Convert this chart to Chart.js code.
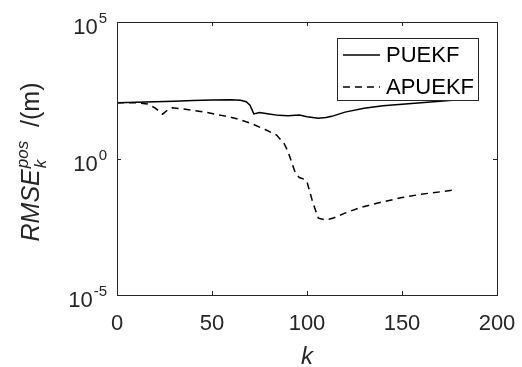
<!DOCTYPE html>
<html>
<head>
<meta charset="utf-8">
<script src="https://cdn.jsdelivr.net/npm/chart.js@4.4.0/dist/chart.umd.min.js"></script>
<style>
  html, body { margin: 0; padding: 0; background: #fff; }
  #wrap { width: 522px; height: 367px; }
</style>
</head>
<body>
<div id="wrap"><canvas id="chart" width="522" height="367"></canvas></div>
<script>
// values (RMSE in m, log axis)
const kPUEKF = [0, 10, 20, 30, 40, 50, 60, 65, 68, 70, 72, 75, 80, 85, 90, 96, 100, 106, 110, 113, 120, 130, 140, 150, 160, 170, 178];
const rmsePUEKF = [111, 115, 120, 126, 132, 138, 141, 135, 120, 89, 43, 48, 43, 38, 37, 39, 34, 30, 32, 35, 50, 69, 85, 98, 110, 126, 138];

const kAPUEKF = [0, 10, 16, 20, 24, 27, 29, 35, 45, 55, 62, 70, 78, 84, 88, 90, 92, 94, 96, 99, 100, 103, 106, 110, 114, 120, 128, 140, 150, 160, 170, 178];
const rmseAPUEKF = [111, 110, 100, 71, 42, 63, 72, 65, 52, 38, 30, 20, 11.5, 7.2, 3.5, 1.8, 0.7, 0.28, 0.2, 0.17, 0.14, 0.025, 0.0065, 0.0056, 0.0066, 0.01, 0.016, 0.026, 0.037, 0.049, 0.06, 0.071];

const seriesNames = ['PUEKF', 'APUEKF'];
const xTicks = [0, 50, 100, 150, 200];
const yTicks = [1e-5, 1, 1e5];
const yTickExp = ['-5', '0', '5'];

const FONT = '"Liberation Sans", Arial, Helvetica, sans-serif';
const INK = '#262626';

function toPoints(xs, ys) {
  return xs.map((x, i) => ({ x: x, y: ys[i] }));
}

const matlabAxes = {
  id: 'matlabAxes',
  afterDatasetsDraw(chart) {
    const ctx = chart.ctx;
    const area = chart.chartArea;
    const sx = chart.scales.x;
    const sy = chart.scales.y;
    ctx.save();

    // box
    ctx.strokeStyle = INK;
    ctx.lineWidth = 1;
    ctx.strokeRect(area.left + 0.5, area.top + 0.5, area.right - area.left, area.bottom - area.top);

    // tick marks, pointing in
    ctx.beginPath();
    for (const t of xTicks) {
      const px = Math.round(sx.getPixelForValue(t)) + 0.5;
      if (t === xTicks[0] || t === xTicks[xTicks.length - 1]) continue;
      ctx.moveTo(px, area.bottom);
      ctx.lineTo(px, area.bottom - 4);
      ctx.moveTo(px, area.top);
      ctx.lineTo(px, area.top + 4);
    }
    for (const t of yTicks) {
      const py = Math.round(sy.getPixelForValue(t)) + 0.5;
      if (t === yTicks[0] || t === yTicks[yTicks.length - 1]) continue;
      ctx.moveTo(area.left, py);
      ctx.lineTo(area.left + 4, py);
      ctx.moveTo(area.right, py);
      ctx.lineTo(area.right - 4, py);
    }
    ctx.stroke();

    // x tick labels
    ctx.fillStyle = INK;
    ctx.font = '22px ' + FONT;
    ctx.textAlign = 'center';
    ctx.textBaseline = 'alphabetic';
    for (const t of xTicks) {
      ctx.fillText(String(t), sx.getPixelForValue(t), area.bottom + 35);
    }

    // y tick labels 10^n
    const labelRight = area.left - 10;
    yTicks.forEach((t, i) => {
      const py = sy.getPixelForValue(t);
      ctx.font = '15px ' + FONT;
      ctx.textAlign = 'right';
      const supW = ctx.measureText(yTickExp[i]).width;
      ctx.fillText(yTickExp[i], labelRight, py + 1);
      ctx.font = '22px ' + FONT;
      ctx.fillText('10', labelRight - supW - 1, py + 12);
    });

    // x title
    ctx.font = 'italic 24px ' + FONT;
    ctx.textAlign = 'center';
    ctx.fillText('k', (area.left + area.right) / 2, 364);

    // y title, rotated
    ctx.save();
    ctx.translate(39, 162);
    ctx.rotate(-Math.PI / 2);
    ctx.textAlign = 'left';
    const big = 'italic 25px ' + FONT;
    const small = 'italic 17px ' + FONT;
    const plain = '25px ' + FONT;
    ctx.font = big; const w1 = ctx.measureText('RMSE').width;
    ctx.font = small; const w2 = Math.max(ctx.measureText('pos').width, ctx.measureText('k').width);
    ctx.font = plain; const w3 = ctx.measureText('  /(m)').width;
    let x0 = -(w1 + w2 + w3 + 1) / 2;
    ctx.font = big; ctx.fillText('RMSE', x0, 0);
    x0 += w1 + 1;
    ctx.font = small;
    ctx.fillText('pos', x0, -11);
    ctx.fillText('k', x0, 7);
    x0 += w2;
    ctx.font = plain; ctx.fillText('  /(m)', x0, 0);
    ctx.restore();

    // legend box
    const lx = 337, ly = 38, lw = 141, lh = 62;
    ctx.fillStyle = '#fff';
    ctx.fillRect(lx, ly, lw, lh);
    ctx.strokeStyle = INK;
    ctx.strokeRect(lx + 0.5, ly + 0.5, lw, lh);
    chart.data.datasets.forEach((ds, i) => {
      const y = ly + 17 + i * 32;
      ctx.strokeStyle = ds.borderColor;
      ctx.lineWidth = ds.borderWidth;
      ctx.setLineDash(ds.borderDash || []);
      ctx.beginPath();
      ctx.moveTo(lx + 6, y);
      ctx.lineTo(lx + 43, y);
      ctx.stroke();
      ctx.setLineDash([]);
      ctx.fillStyle = '#000';
      ctx.font = '22px ' + FONT;
      ctx.textAlign = 'left';
      ctx.textBaseline = 'middle';
      ctx.fillText(ds.label, lx + 49, y + 1);
      ctx.textBaseline = 'alphabetic';
    });

    ctx.restore();
  }
};

const ctx = document.getElementById('chart').getContext('2d');
const chart = new Chart(ctx, {
  type: 'line',
  data: {
    datasets: [
      {
        label: seriesNames[0],
        data: toPoints(kPUEKF, rmsePUEKF),
        borderColor: '#000',
        borderWidth: 1.5,
        pointRadius: 0,
        tension: 0,
        fill: false
      },
      {
        label: seriesNames[1],
        data: toPoints(kAPUEKF, rmseAPUEKF),
        borderColor: '#000',
        borderWidth: 1.5,
        borderDash: [7, 5],
        pointRadius: 0,
        tension: 0,
        fill: false
      }
    ]
  },
  options: {
    responsive: false,
    animation: false,
    layout: { padding: { top: 22, right: 25, left: 0, bottom: 0 } },
    plugins: { legend: { display: false }, tooltip: { enabled: false } },
    scales: {
      x: {
        type: 'linear',
        min: 0,
        max: 200,
        grid: { display: false },
        border: { display: false },
        ticks: { display: false },
        afterFit(scale) { scale.height = 72; }
      },
      y: {
        type: 'logarithmic',
        min: 1e-5,
        max: 1e5,
        grid: { display: false },
        border: { display: false },
        ticks: { display: false },
        afterFit(scale) { scale.width = 117; }
      }
    }
  },
  plugins: [matlabAxes]
});
</script>
</body>
</html>
